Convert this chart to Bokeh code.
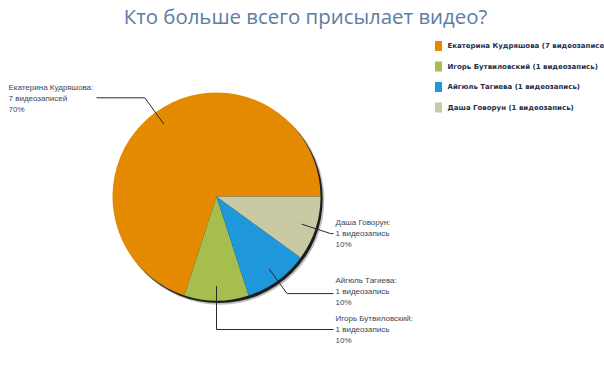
import numpy as np
from bokeh.plotting import figure
from bokeh.models import Range1d
from bokeh.core.properties import value
from bokeh.embed import file_html
from bokeh.resources import INLINE

# ---- data ----
title = "Кто больше всего присылает видео?"
names = ["Екатерина Кудряшова", "Игорь Бутвиловский", "Айгюль Тагиева", "Даша Говорун"]
counts = [7, 1, 1, 1]
count_words = ["видеозаписей", "видеозапись", "видеозапись", "видеозапись"]
legend_labels = ["Екатерина Кудряшова (7 видеозаписе",
                 "Игорь Бутвиловский (1 видеозапись)",
                 "Айгюль Тагиева (1 видеозапись)",
                 "Даша Говорун (1 видеозапись)"]
colors = ["#E38A00", "#A6BE4E", "#1F97DB", "#C9C9A3"]

# ---- layout (page pixel coordinates, y downward) ----
W, H = 604, 378
cx_img, cy_img, R = 216, 196, 104
elbow_r = [122, 133, 120, 120]
line_end_x = [96, 333, 333, 333]
label_x = [8, 335, 335, 335]
label_dy = [1, 0, -2, 0]
line_gap = 11
legend_x, legend_y0, legend_step = 438, 45.5, 20.5


def Y(y_img):
    return 378 - y_img


p = figure(width=W, height=H, x_range=Range1d(0, W), y_range=Range1d(378 - H, 378),
           output_backend="svg", toolbar_location=None, min_border=0)
p.axis.visible = False
p.grid.visible = False
p.outline_line_color = None
p.background_fill_color = "white"
p.border_fill_color = "white"

cx, cy = cx_img, Y(cy_img)

# shadow
p.circle(x=[cx + 3.2], y=[cy - 3.6], radius=R + 0.6, fill_color="black", fill_alpha=0.25, line_color=None)
p.circle(x=[cx + 2.2], y=[cy - 2.6], radius=R, fill_color="black", fill_alpha=0.85, line_color=None)

total = sum(counts)
fr = np.array(counts) / total
ends = np.cumsum(fr) * 2 * np.pi
starts = np.concatenate([[0], ends[:-1]])
p.wedge(x=cx, y=cy, radius=R, start_angle=list(starts), end_angle=list(ends),
        fill_color=colors, line_color=None)

# labels with leader lines
mids = (starts + ends) / 2
for i, name in enumerate(names):
    a = mids[i]
    x0, y0 = cx + 0.86 * R * np.cos(a), cy + 0.86 * R * np.sin(a)
    x1, y1 = cx + elbow_r[i] * np.cos(a), cy + elbow_r[i] * np.sin(a)
    p.line([x0, x1, line_end_x[i]], [y0, y1, y1], line_color="#2a2a2a", line_width=1)
    pct = int(round(counts[i] / total * 100))
    lines = [f"{name}:", f"{counts[i]} {count_words[i]}", f"{pct}%"]
    ymid = y1 - label_dy[i]
    for k, t in enumerate(lines):
        p.text(x=[label_x[i]], y=[ymid + (1 - k) * line_gap], text=[t],
               text_font=value("Liberation Sans"), text_font_size="8px",
               text_color="#3b4654", text_align="left", text_baseline="middle")

# legend
for i, lab in enumerate(legend_labels):
    yy = Y(legend_y0 + i * legend_step)
    p.rect(x=[legend_x], y=[yy], width=7, height=10, fill_color=colors[i], line_color=None)
    p.text(x=[legend_x + 9], y=[yy], text=[lab],
           text_font=value("DejaVu Sans"), text_font_size="7px", text_font_style="bold",
           text_color="#1d2f4c", text_align="left", text_baseline="middle")

# title
p.text(x=[305], y=[Y(15)], text=[title], text_font=value("Open Sans"), text_font_size="20.4px",
       text_color="#5b7ca3", text_align="center", text_baseline="middle")

open("out.html", "w").write(file_html(p, INLINE))
